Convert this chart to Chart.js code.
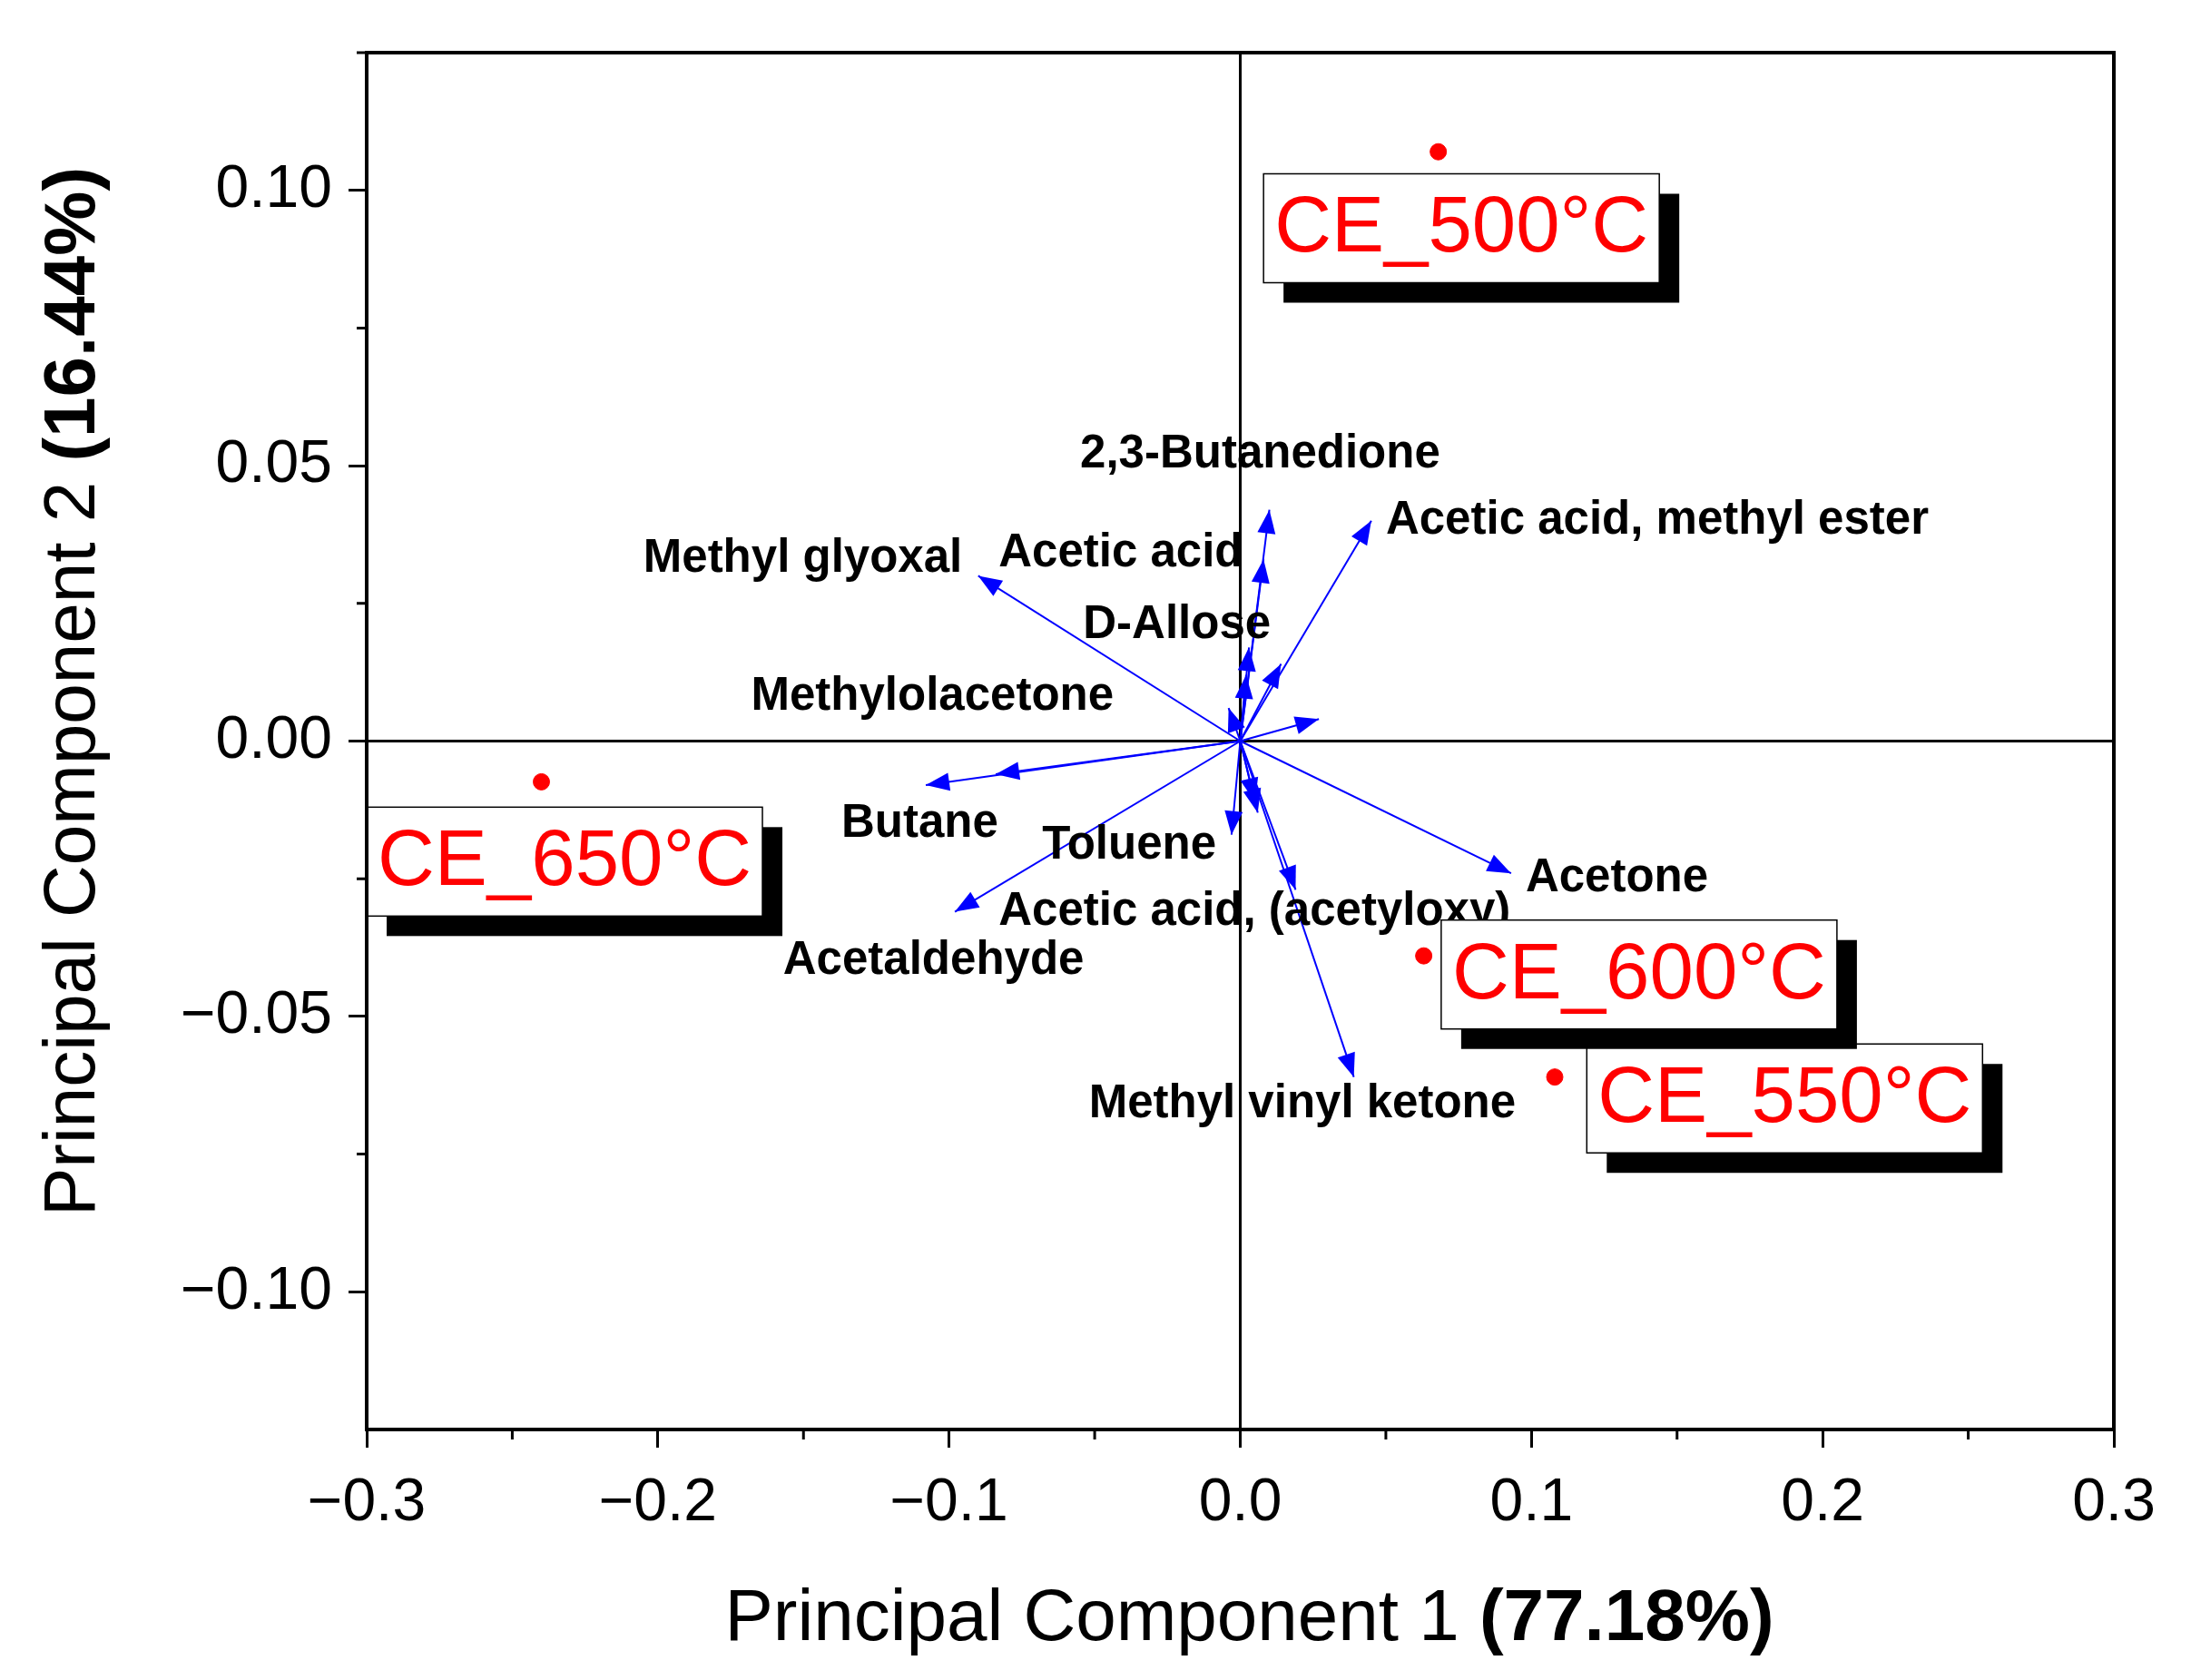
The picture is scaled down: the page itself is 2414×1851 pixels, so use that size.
<!DOCTYPE html>
<html lang="en">
<head>
<meta charset="UTF-8">
<title>PCA Biplot</title>
<script src="https://cdn.jsdelivr.net/npm/chart.js"></script>
<style>
  html, body { margin: 0; padding: 0; background: #fff; }
</style>
</head>
<body>
<canvas id="pcaChart" width="2414" height="1851"></canvas>
<script>
// Scores (samples)
const sampleNames = ['CE_500°C', 'CE_550°C', 'CE_600°C', 'CE_650°C'];
const sampleX = [0.068, 0.108, 0.063, -0.240];
const sampleY = [0.107, -0.061, -0.039, -0.0074];

// Loadings (arrow tips)
const loadingX = [-0.090, 0.010, 0.008, 0.045, 0.003, 0.014, 0.027, -0.084, -0.108, -0.003, -0.098, 0.093,
  0.019, 0.039, 0.002, 0.005, -0.004, 0.006];
const loadingY = [0.030, 0.042, 0.033, 0.040, 0.017, 0.014, 0.004, -0.006, -0.008, -0.017, -0.031, -0.024,
  -0.027, -0.061, 0.012, -0.011, 0.006, -0.013];

// Loading labels (left edge, vertical middle, in data units)
const labelText = ['Methyl glyoxal', '2,3-Butanedione', 'Acetic acid', 'Acetic acid, methyl ester', 'D-Allose',
  'Methylolacetone', 'Butane', 'Toluene', 'Acetic acid, (acetyloxy)', 'Acetaldehyde', 'Acetone', 'Methyl vinyl ketone'];
const labelX = [-0.205, -0.055, -0.083, 0.050, -0.054, -0.168, -0.137, -0.068, -0.083, -0.157, 0.098, -0.052];
const labelY = [0.033, 0.052, 0.034, 0.040, 0.021, 0.008, -0.015, -0.019, -0.031, -0.040, -0.025, -0.066];

// CE label boxes (left, top in data units)
const boxX = [0.008, 0.119, 0.069, -0.300];
const boxY = [0.103, -0.055, -0.0325, -0.012];

const FONT = '"Liberation Sans", Arial, sans-serif';

const biplot = {
  id: 'biplot',
  beforeDatasetsDraw(chart) {
    const { ctx, chartArea: a, scales: { x, y } } = chart;
    ctx.save();
    ctx.strokeStyle = '#000'; ctx.lineWidth = 3;
    ctx.beginPath();
    ctx.moveTo(x.getPixelForValue(0), a.top); ctx.lineTo(x.getPixelForValue(0), a.bottom);
    ctx.moveTo(a.left, y.getPixelForValue(0)); ctx.lineTo(a.right, y.getPixelForValue(0));
    // minor ticks
    for (let v = -0.25; v < 0.3; v += 0.1) {
      const px = x.getPixelForValue(v);
      ctx.moveTo(px, a.bottom); ctx.lineTo(px, a.bottom + 11);
    }
    for (let v = -0.1; v <= 0.11; v += 0.05) {
      const py = y.getPixelForValue(v + 0.025);
      ctx.moveTo(a.left, py); ctx.lineTo(a.left - 11, py);
    }
    ctx.stroke();
    // arrows
    ctx.strokeStyle = '#0000ff'; ctx.fillStyle = '#0000ff'; ctx.lineWidth = 2;
    const ox = x.getPixelForValue(0), oy = y.getPixelForValue(0);
    loadingX.forEach((lx, i) => {
      const tx = x.getPixelForValue(lx), ty = y.getPixelForValue(loadingY[i]);
      const ang = Math.atan2(ty - oy, tx - ox);
      const c = Math.cos(ang), s = Math.sin(ang);
      ctx.beginPath(); ctx.moveTo(ox, oy); ctx.lineTo(tx, ty); ctx.stroke();
      ctx.beginPath();
      ctx.moveTo(tx, ty);
      ctx.lineTo(tx - 26 * c + 10 * s, ty - 26 * s - 10 * c);
      ctx.lineTo(tx - 26 * c - 10 * s, ty - 26 * s + 10 * c);
      ctx.closePath(); ctx.fill();
    });
    // arrow labels
    ctx.fillStyle = '#000'; ctx.font = 'bold 51px ' + FONT; ctx.textBaseline = 'middle';
    labelText.forEach((t, i) => ctx.fillText(t, x.getPixelForValue(labelX[i]), y.getPixelForValue(labelY[i])));
    ctx.restore();
  },
  afterDatasetsDraw(chart) {
    const { ctx, chartArea: a, scales: { x, y } } = chart;
    ctx.save();
    ctx.font = '87px ' + FONT; ctx.textBaseline = 'middle';
    sampleNames.forEach((n, i) => {
      const bx = x.getPixelForValue(boxX[i]), by = y.getPixelForValue(boxY[i]);
      const w = ctx.measureText(n).width + 24, h = 120;
      ctx.fillStyle = '#000'; ctx.fillRect(bx + 22, by + 22, w, h);
      ctx.fillStyle = '#fff'; ctx.fillRect(bx, by, w, h);
      ctx.strokeStyle = '#000'; ctx.lineWidth = 1.5; ctx.strokeRect(bx, by, w, h);
      ctx.fillStyle = '#ff0000'; ctx.fillText(n, bx + 12, by + h / 2 + 2);
    });
    // frame
    ctx.strokeStyle = '#000'; ctx.lineWidth = 4;
    ctx.strokeRect(a.left, a.top, a.right - a.left, a.bottom - a.top);
    // axis titles
    ctx.fillStyle = '#000'; ctx.textBaseline = 'middle';
    const drawMixed = (parts, cx, cy) => {
      let w = 0;
      parts.forEach(p => { ctx.font = p[1] + ' 80px ' + FONT; w += ctx.measureText(p[0]).width; });
      let px = cx - w / 2;
      parts.forEach(p => { ctx.font = p[1] + ' 80px ' + FONT; ctx.fillText(p[0], px, cy); px += ctx.measureText(p[0]).width; });
    };
    drawMixed([['Principal Component 1 ', 'normal'], ['(77.18%)', 'bold']], (a.left + a.right) / 2 + 10, 1785);
    ctx.translate(82, 762); ctx.rotate(-Math.PI / 2);
    drawMixed([['Principal Component 2 ', 'normal'], ['(16.44%)', 'bold']], 0, 0);
    ctx.restore();
  }
};

new Chart(document.getElementById('pcaChart'), {
  type: 'scatter',
  data: {
    datasets: [{
      data: sampleX.map((v, i) => ({ x: v, y: sampleY[i] })),
      backgroundColor: '#ff0000', borderColor: '#ff0000', pointRadius: 9
    }]
  },
  options: {
    responsive: false, animation: false, devicePixelRatio: 1,
    layout: { padding: { top: 58, right: 85, left: 0, bottom: 0 } },
    plugins: { legend: { display: false }, tooltip: { enabled: false } },
    scales: {
      x: {
        min: -0.3, max: 0.3,
        afterFit: s => { s.height = 276; },
        ticks: { stepSize: 0.1, color: '#000', font: { size: 66, family: FONT }, padding: 22,
          callback: v => (Math.abs(v) < 1e-9 ? '0.0' : (v < 0 ? '\u2212' : '') + Math.abs(v).toFixed(1)) },
        grid: { drawOnChartArea: false, tickLength: 20, color: '#000', lineWidth: 3 },
        border: { display: false }
      },
      y: {
        min: -0.125, max: 0.125,
        afterFit: s => { s.width = 404; },
        afterBuildTicks: s => { s.ticks = [-0.1, -0.05, 0, 0.05, 0.1].map(v => ({ value: v })); },
        ticks: { color: '#000', font: { size: 66, family: FONT }, padding: 18,
          callback: v => (Math.abs(v) < 1e-9 ? '0.00' : (v < 0 ? '\u2212' : '') + Math.abs(v).toFixed(2)) },
        grid: { drawOnChartArea: false, tickLength: 20, color: '#000', lineWidth: 3 },
        border: { display: false }
      }
    }
  },
  plugins: [biplot]
});
</script>
</body>
</html>
